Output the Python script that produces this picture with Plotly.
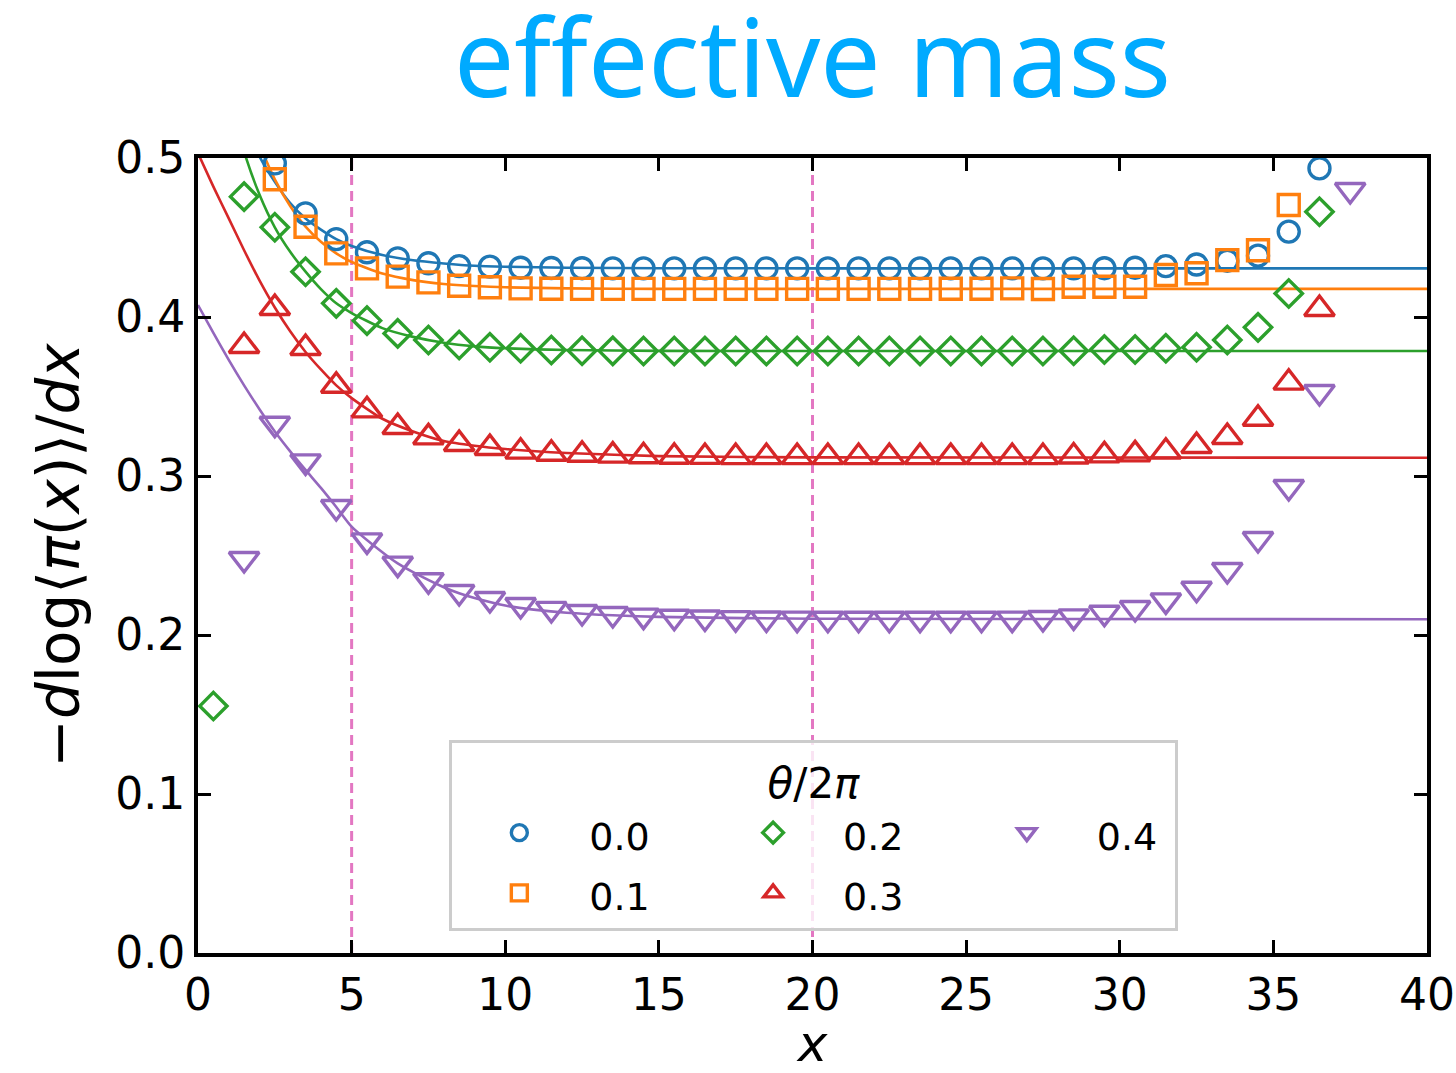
import plotly.graph_objects as go

# ---- measured effective mass, one list per theta/2pi ----
theta_labels = ["0.0", "0.1", "0.2", "0.3", "0.4"]
colors = ["#1f77b4", "#ff7f0e", "#2ca02c", "#d62728", "#9467bd"]
symbols = ["circle-open", "square-open", "diamond-open", "triangle-up-open", "triangle-down-open"]
groups = ["a", "a", "b", "b", "c"]

x_t00 = [2.5, 3.5, 4.5, 5.5, 6.5, 7.5, 8.5, 9.5, 10.5, 11.5, 12.5, 13.5, 14.5, 15.5, 16.5, 17.5,
         18.5, 19.5, 20.5, 21.5, 22.5, 23.5, 24.5, 25.5, 26.5, 27.5, 28.5, 29.5, 30.5, 31.5, 32.5,
         33.5, 34.5, 35.5, 36.5]
m_t00 = [0.4966, 0.4652, 0.4490, 0.4407, 0.4369, 0.4338, 0.4320, 0.4317, 0.4310, 0.4308, 0.4307,
         0.4306, 0.4306, 0.4306, 0.4306, 0.4306, 0.4306, 0.4306, 0.4306, 0.4306, 0.4306, 0.4306,
         0.4306, 0.4306, 0.4306, 0.4306, 0.4306, 0.4307, 0.4310, 0.4320, 0.4330, 0.4354, 0.4386,
         0.4537, 0.4935]

x_t01 = [2.5, 3.5, 4.5, 5.5, 6.5, 7.5, 8.5, 9.5, 10.5, 11.5, 12.5, 13.5, 14.5, 15.5, 16.5, 17.5,
         18.5, 19.5, 20.5, 21.5, 22.5, 23.5, 24.5, 25.5, 26.5, 27.5, 28.5, 29.5, 30.5, 31.5, 32.5,
         33.5, 34.5, 35.5]
m_t01 = [0.4866, 0.4568, 0.4400, 0.4306, 0.4254, 0.4218, 0.4197, 0.4187, 0.4180, 0.4178, 0.4177,
         0.4177, 0.4177, 0.4177, 0.4177, 0.4177, 0.4177, 0.4177, 0.4177, 0.4177, 0.4177, 0.4177,
         0.4178, 0.4178, 0.4180, 0.4176, 0.4190, 0.4190, 0.4190, 0.4264, 0.4275, 0.4358, 0.4420,
         0.4704]

x_t02 = [0.5, 1.5, 2.5, 3.5, 4.5, 5.5, 6.5, 7.5, 8.5, 9.5, 10.5, 11.5, 12.5, 13.5, 14.5, 15.5,
         16.5, 17.5, 18.5, 19.5, 20.5, 21.5, 22.5, 23.5, 24.5, 25.5, 26.5, 27.5, 28.5, 29.5, 30.5,
         31.5, 32.5, 33.5, 34.5, 35.5, 36.5]
m_t02 = [0.1553, 0.4757, 0.4564, 0.4285, 0.4086, 0.3977, 0.3897, 0.3855, 0.3824, 0.3810, 0.3803,
         0.3792, 0.3788, 0.3787, 0.3786, 0.3786, 0.3786, 0.3786, 0.3786, 0.3786, 0.3786, 0.3786,
         0.3786, 0.3786, 0.3786, 0.3786, 0.3786, 0.3786, 0.3788, 0.3796, 0.3796, 0.3803, 0.3810,
         0.3855, 0.3935, 0.4148, 0.4662]

x_t03 = [1.5, 2.5, 3.5, 4.5, 5.5, 6.5, 7.5, 8.5, 9.5, 10.5, 11.5, 12.5, 13.5, 14.5, 15.5, 16.5,
         17.5, 18.5, 19.5, 20.5, 21.5, 22.5, 23.5, 24.5, 25.5, 26.5, 27.5, 28.5, 29.5, 30.5, 31.5,
         32.5, 33.5, 34.5, 35.5, 36.5]
m_t03 = [0.3818, 0.4057, 0.3805, 0.3568, 0.3413, 0.3308, 0.3243, 0.3201, 0.3176, 0.3153, 0.3140,
         0.3134, 0.3128, 0.3124, 0.3121, 0.3120, 0.3119, 0.3119, 0.3119, 0.3119, 0.3119, 0.3119,
         0.3119, 0.3119, 0.3119, 0.3119, 0.3119, 0.3123, 0.3130, 0.3136, 0.3153, 0.3189, 0.3245,
         0.3360, 0.3587, 0.4050]

x_t04 = [1.5, 2.5, 3.5, 4.5, 5.5, 6.5, 7.5, 8.5, 9.5, 10.5, 11.5, 12.5, 13.5, 14.5, 15.5, 16.5,
         17.5, 18.5, 19.5, 20.5, 21.5, 22.5, 23.5, 24.5, 25.5, 26.5, 27.5, 28.5, 29.5, 30.5, 31.5,
         32.5, 33.5, 34.5, 35.5, 36.5, 37.5]
m_t04 = [0.2478, 0.3329, 0.3092, 0.2805, 0.2595, 0.2449, 0.2344, 0.2270, 0.2226, 0.2189, 0.2164,
         0.2145, 0.2132, 0.2122, 0.2115, 0.2110, 0.2106, 0.2104, 0.2103, 0.2102, 0.2102, 0.2102,
         0.2102, 0.2102, 0.2102, 0.2103, 0.2107, 0.2117, 0.2140, 0.2170, 0.2218, 0.2291, 0.2409,
         0.2604, 0.2931, 0.3528, 0.4799]

# ---- fitted curves, sampled ----
xf_t00 = [1.5, 2.0, 2.5, 3.0, 3.5, 4.0, 4.5, 5.0, 6.0, 7.0, 8.0, 9.0, 10.0, 12.0, 15.0, 20.0, 40.0]
f_t00 = [0.523, 0.501, 0.485, 0.4717, 0.462, 0.455, 0.449, 0.4447, 0.439, 0.4357, 0.4337, 0.4322,
         0.4316, 0.4310, 0.4307, 0.4306, 0.4306]
xf_t01 = [1.5, 2.0, 2.5, 3.0, 3.5, 4.0, 4.5, 5.0, 6.0, 7.0, 8.0, 9.0, 10.0, 12.0, 15.0, 20.0, 40.0]
f_t01 = [0.539, 0.509, 0.4866, 0.4698, 0.4568, 0.4473, 0.4400, 0.4346, 0.4273, 0.4232, 0.4208,
         0.4195, 0.4187, 0.4180, 0.4177, 0.4177, 0.4177]
xf_t02 = [1.0, 1.5, 2.0, 2.5, 3.0, 3.5, 4.0, 4.5, 5.0, 6.0, 7.0, 8.0, 9.0, 10.0, 12.0, 15.0, 20.0, 40.0]
f_t02 = [0.540, 0.504, 0.477, 0.4564, 0.441, 0.4285, 0.4175, 0.4086, 0.4025, 0.393, 0.3875, 0.3838,
         0.3815, 0.3803, 0.3792, 0.3787, 0.3786, 0.3786]
xf_t03 = [0.0, 0.5, 1.0, 1.5, 2.0, 2.5, 3.0, 3.5, 4.0, 4.5, 5.0, 6.0, 7.0, 8.0, 9.0, 10.0, 12.0, 15.0,
          20.0, 40.0]
f_t03 = [0.503, 0.482, 0.462, 0.442, 0.423, 0.406, 0.391, 0.378, 0.367, 0.357, 0.349, 0.336, 0.328,
         0.322, 0.319, 0.317, 0.3145, 0.3125, 0.3117, 0.3115]
xf_t04 = [0.0, 0.5, 1.0, 1.5, 2.0, 2.5, 3.0, 3.5, 4.0, 4.5, 5.0, 6.0, 6.5, 7.0, 8.0, 8.5, 9.0, 10.0,
          11.0, 12.0, 13.5, 15.0, 20.0, 40.0]
f_t04 = [0.4075, 0.390, 0.373, 0.357, 0.342, 0.328, 0.3155, 0.3038, 0.2925, 0.2805, 0.2681, 0.2520,
         0.2450, 0.2395, 0.2300, 0.2262, 0.2232, 0.2185, 0.2158, 0.2140, 0.2124, 0.2114, 0.2102,
         0.2099]

# plateau window used for the fits
window_edges = [5, 20]

x_tick_vals = [0, 5, 10, 15, 20, 25, 30, 35, 40]
y_tick_vals = [0.0, 0.1, 0.2, 0.3, 0.4, 0.5]

data_x = [x_t00, x_t01, x_t02, x_t03, x_t04]
data_m = [m_t00, m_t01, m_t02, m_t03, m_t04]
fit_x = [xf_t00, xf_t01, xf_t02, xf_t03, xf_t04]
fit_y = [f_t00, f_t01, f_t02, f_t03, f_t04]
marker_sizes = [21, 21, 21, 26, 26]

NB = "\u00a0"
label_pad = [4, 4, 4, 4, 1]

fig = go.Figure()

for i in range(5):
    fig.add_trace(go.Scatter(
        x=fit_x[i], y=fit_y[i], mode="lines",
        line=dict(color=colors[i], width=2.6, shape="spline", smoothing=0.6),
        showlegend=False, hoverinfo="skip",
    ))

for i in range(5):
    fig.add_trace(go.Scatter(
        x=data_x[i], y=data_m[i], mode="markers",
        marker=dict(symbol=symbols[i], size=marker_sizes[i], color=colors[i],
                    line=dict(color=colors[i], width=3.4)),
        name='<span style="font-size:38px">' + theta_labels[i] + NB * label_pad[i] + '</span>',
        legendgroup=groups[i],
    ))

for xe in window_edges:
    fig.add_vline(x=xe, line=dict(color="#e377c2", width=3, dash="10px,6px"), layer="below")

axis_common = dict(
    showline=True, linecolor="black", linewidth=4, mirror="ticks",
    ticks="inside", ticklen=13, tickwidth=3, tickcolor="black",
    showgrid=False, zeroline=False, automargin=False,
    tickfont=dict(family="DejaVu Sans", size=44, color="black"),
)

fig.update_xaxes(range=[0, 40], tickvals=x_tick_vals, ticktext=[str(v) for v in x_tick_vals],
                 title=dict(text="<i>x</i>", font=dict(family="DejaVu Sans", size=50, color="black"),
                            standoff=18),
                 **axis_common)
fig.update_yaxes(range=[0, 0.5], tickvals=y_tick_vals, ticktext=[f"{v:.1f}" for v in y_tick_vals],
                 title=dict(text="\u2212<i>d</i>log\u27e8<i>\u03c0</i>(<i>x</i>)\u27e9/<i>dx</i>",
                            font=dict(family="DejaVu Sans", size=58, color="black"), standoff=18),
                 **axis_common)

fig.update_layout(
    width=1456, height=1073,
    margin=dict(l=198, r=29, t=158, b=120),
    paper_bgcolor="white", plot_bgcolor="white",
    title=dict(text="effective mass", x=0.5, xref="paper", y=1 - 60 / 1073, yref="container",
               xanchor="center", yanchor="middle",
               font=dict(family="Noto Sans", size=107, color="#00aaff")),
    legend=dict(
        orientation="h", traceorder="grouped",
        x=0.2045, y=0.268, xanchor="left", yanchor="top",
        bgcolor="rgba(255,255,255,0.8)", bordercolor="#cccccc", borderwidth=3,
        font=dict(family="DejaVu Sans", size=44, color="black"),
        itemwidth=130,
        title=dict(text="<i>\u03b8</i>/2<i>\u03c0</i>", side="top center",
                   font=dict(family="DejaVu Sans", size=42, color="black")),
    ),
    showlegend=True,
)

fig.write_html("out.html")
